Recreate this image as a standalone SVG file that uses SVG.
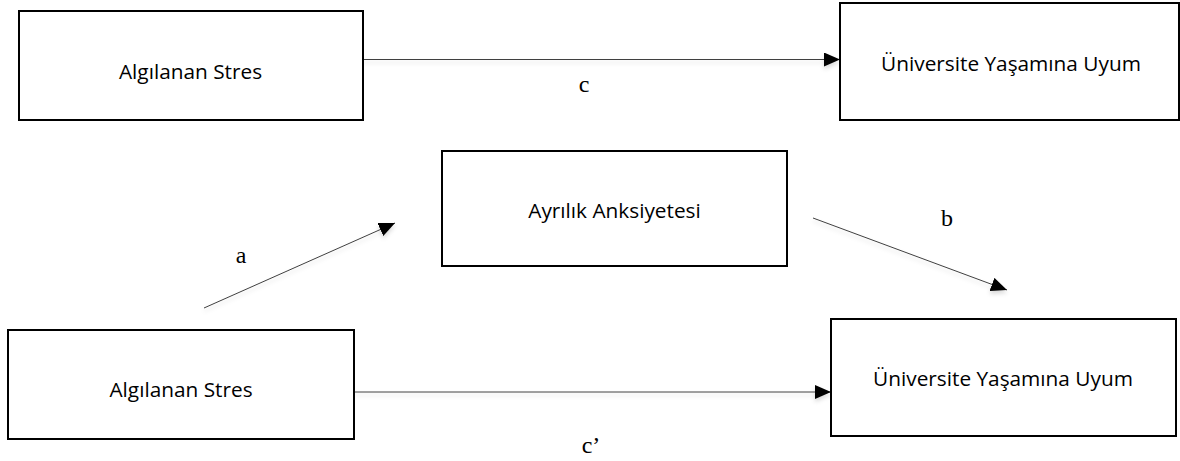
<svg xmlns="http://www.w3.org/2000/svg" width="1180" height="461" viewBox="0 0 1180 461">
  <style>
    .box { fill: #ffffff; stroke: #000000; stroke-width: 2; }
    .lbl { font-family: "Open Sans", "Liberation Sans", sans-serif; font-size: 20.8px; fill: #000000; text-anchor: middle; }
    .path-lbl { font-family: "Liberation Serif", "DejaVu Serif", serif; font-size: 24px; fill: #000000; text-anchor: middle; }
    .conn { stroke: #404040; stroke-width: 1; fill: none; marker-end: url(#arrow); }
    .shadow { filter: url(#shadow); }
  </style>
  <defs>
    <marker id="arrow" viewBox="0 0 16 14" refX="16" refY="7" markerWidth="16" markerHeight="14" markerUnits="userSpaceOnUse" orient="auto">
      <path d="M0,0 L16,7 L0,14 Z" fill="#000000"/>
    </marker>
    <filter id="shadow" filterUnits="userSpaceOnUse" x="0" y="0" width="1180" height="461">
      <feDropShadow dx="0" dy="3" stdDeviation="2" flood-color="#000000" flood-opacity="0.15"/>
    </filter>
  </defs>
  <rect width="1180" height="461" fill="#ffffff"/>

  <g id="connectors">
    <g class="shadow">
      <line class="conn" x1="363" y1="59.5" x2="840" y2="59.5"/>
      <line class="conn" x1="204" y1="308" x2="395" y2="223"/>
      <line class="conn" x1="813" y1="218" x2="1007" y2="290"/>
      <line class="conn" x1="354" y1="392" x2="831" y2="392"/>
    </g>
    <text class="path-lbl" x="584" y="92">c</text>
    <text class="path-lbl" x="241" y="263">a</text>
    <text class="path-lbl" x="947" y="226">b</text>
    <text class="path-lbl" x="591" y="453">c’</text>
  </g>

  <g id="node-stres-top">
    <rect class="box" x="19" y="11" width="344" height="109"/>
    <text class="lbl" x="190.5" y="79">Algılanan Stres</text>
  </g>
  <g id="node-uyum-top">
    <rect class="box" x="840" y="3" width="339" height="117"/>
    <text class="lbl" x="1011" y="71">Üniversite Yaşamına Uyum</text>
  </g>
  <g id="node-ayrilik">
    <rect class="box" x="442" y="151" width="345" height="115"/>
    <text class="lbl" x="614.5" y="218">Ayrılık Anksiyetesi</text>
  </g>
  <g id="node-stres-bottom">
    <rect class="box" x="8" y="330" width="346" height="109"/>
    <text class="lbl" x="181" y="397">Algılanan Stres</text>
  </g>
  <g id="node-uyum-bottom">
    <rect class="box" x="831" y="319" width="345" height="117"/>
    <text class="lbl" x="1003" y="386">Üniversite Yaşamına Uyum</text>
  </g>
</svg>
